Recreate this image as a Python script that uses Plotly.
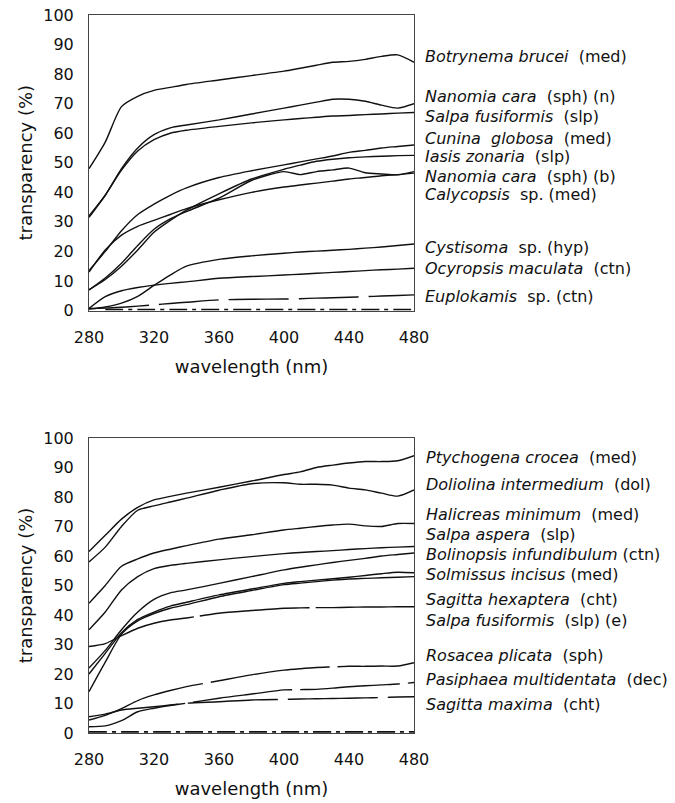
import plotly.graph_objects as go

# Wavelength grid (nm) shared by every spectrum
wavelength = [280, 290, 300, 310, 320, 330, 340, 360, 380, 400, 410, 420, 430, 440, 450, 460, 470, 480]

# ---- upper panel: transparency (%) ----
botrynema_brucei = [48, 57, 69, 72.5, 74.5, 75.5, 76.5, 78, 79.5, 81, 82, 83, 84, 84.3, 85, 86, 86.5, 84]
nanomia_cara_n = [32, 39, 48, 55, 59.5, 61.8, 62.8, 64.5, 66.5, 68.5, 69.5, 70.5, 71.5, 71.5, 70.8, 69.5, 68.5, 70]
salpa_fusiformis = [31.5, 39, 47.5, 54, 57.8, 60, 61, 62.3, 63.5, 64.5, 65, 65.4, 65.8, 66, 66.3, 66.5, 66.8, 67]
cunina_globosa = [13.5, 20, 27, 32.5, 36, 39, 41.5, 45, 47.3, 49.3, 50.3, 51.3, 52.3, 53.5, 54.2, 55, 55.5, 56]
iasis_zonaria = [7, 10.5, 15, 20.5, 26.5, 30.5, 34, 39.5, 44.5, 47.8, 49.2, 50.5, 51.2, 51.7, 52, 52.2, 52.4, 52.5]
nanomia_cara_b = [7, 11, 16, 22, 27.5, 31, 33.5, 38, 44, 47, 46, 47, 47.6, 48.2, 46.6, 46.2, 45.9, 47]
calycopsis_sp = [13, 20.5, 25.5, 28.5, 30.5, 32.5, 34.5, 37.5, 40, 41.8, 42.5, 43.1, 43.8, 44.5, 45, 45.6, 46, 46.5]
cystisoma_sp = [0.5, 1.2, 2.5, 4.8, 8.5, 12, 15, 17.3, 18.5, 19.4, 19.8, 20.1, 20.4, 20.7, 21.1, 21.5, 22, 22.5]
ocyropsis_maculata = [0.7, 4.7, 6.7, 7.8, 8.6, 9.2, 9.7, 10.9, 11.5, 12, 12.3, 12.6, 12.9, 13.2, 13.5, 13.8, 14, 14.3]
euplokamis_sp = [0.7, 0.8, 1.1, 1.5, 1.9, 2.4, 2.8, 3.6, 3.8, 3.9, 4.0, 4.2, 4.3, 4.5, 4.7, 4.9, 5.1, 5.3]
near_zero_upper = [None, 0.3, 0.3, 0.3, 0.3, 0.3, 0.3, 0.3, 0.3, 0.3, 0.3, 0.3, 0.3, 0.3, 0.3, 0.3, 0.3, 0.3]

# ---- lower panel: transparency (%) ----
ptychogena_crocea = [61.5, 67, 72.5, 76.5, 79, 80.2, 81.3, 83.3, 85.4, 87.6, 88.5, 90, 90.8, 91.5, 92, 92, 92.3, 94]
doliolina_intermedium = [58, 63, 70, 75.5, 77, 78.3, 79.6, 82.3, 84.5, 84.8, 84.3, 84.3, 84, 83, 82.4, 81.3, 80.3, 82.4]
halicreas_minimum = [44, 50, 56.5, 59, 61, 62.3, 63.5, 65.7, 67.2, 68.8, 69.4, 70, 70.5, 70.8, 70.2, 70, 71, 71]
salpa_aspera = [35, 41, 48.5, 53, 55.7, 56.8, 57.5, 58.7, 59.8, 60.8, 61.2, 61.5, 61.8, 62.2, 62.5, 62.8, 63, 63.2]
bolinopsis_infundibulum = [22, 28, 35, 41, 45.3, 47.5, 48.5, 50.7, 53, 55.3, 56.2, 57, 57.8, 58.5, 59.2, 60, 60.5, 61]
solmissus_incisus = [20, 27, 34, 38.5, 41, 43, 44.3, 46.8, 48.8, 50.7, 51.3, 51.8, 52.3, 52.8, 53.4, 54, 54.5, 54.3]
sagitta_hexaptera = [14, 24, 33.5, 38, 40.5, 42.3, 43.5, 46.2, 48.3, 50.3, 50.8, 51.3, 51.8, 52.2, 52.4, 52.6, 52.8, 53]
salpa_fusiformis_e = [29.3, 30.3, 33, 35.5, 37.2, 38.3, 39, 40.6, 41.5, 42.3, 42.4, 42.5, 42.5, 42.6, 42.7, 42.7, 42.8, 42.8]
rosacea_plicata = [4.4, 6, 8.3, 11, 12.9, 14.4, 15.7, 17.7, 19.7, 21.3, 21.8, 22.2, 22.4, 22.6, 22.6, 22.7, 22.7, 23.8]
pasiphaea_multidentata = [2.1, 2.4, 4.2, 7.2, 8.4, 9.3, 10.1, 11.8, 13.2, 14.6, 14.7, 14.8, 15.2, 15.7, 16, 16.3, 16.6, 17.1]
sagitta_maxima = [5.5, 6.4, 7.8, 8.4, 8.9, 9.5, 10.1, 10.6, 11.2, 11.4, 11.5, 11.6, 11.7, 11.8, 11.9, 12, 12.2, 12.3]
near_zero_lower = [0.4, 0.4, 0.4, 0.4, 0.4, 0.4, 0.4, 0.4, 0.4, 0.4, 0.4, 0.4, 0.4, 0.4, 0.4, 0.4, 0.4, 0.4]

upper_species = [
    ("<i>Botrynema brucei</i>  (med)", botrynema_brucei, "solid"),
    ("<i>Nanomia cara</i>  (sph) (n)", nanomia_cara_n, "solid"),
    ("<i>Salpa fusiformis</i>  (slp)", salpa_fusiformis, "solid"),
    ("<i>Cunina  globosa</i>  (med)", cunina_globosa, "solid"),
    ("<i>Iasis zonaria</i>  (slp)", iasis_zonaria, "solid"),
    ("<i>Nanomia cara</i>  (sph) (b)", nanomia_cara_b, "solid"),
    ("<i>Calycopsis</i>  sp. (med)", calycopsis_sp, "solid"),
    ("<i>Cystisoma</i>  sp. (hyp)", cystisoma_sp, "solid"),
    ("<i>Ocyropsis maculata</i>  (ctn)", ocyropsis_maculata, "solid"),
    ("<i>Euplokamis</i>  sp. (ctn)", euplokamis_sp, "60px,10px"),
]
upper_label_y = [85.8, 72.3, 65.8, 58.1, 52, 45.5, 39.2, 21.4, 14.3, 4.6]

lower_species = [
    ("<i>Ptychogena crocea</i>  (med)", ptychogena_crocea, "solid"),
    ("<i>Doliolina intermedium</i>  (dol)", doliolina_intermedium, "solid"),
    ("<i>Halicreas minimum</i>  (med)", halicreas_minimum, "solid"),
    ("<i>Salpa aspera</i>  (slp)", salpa_aspera, "solid"),
    ("<i>Bolinopsis infundibulum</i> (ctn)", bolinopsis_infundibulum, "solid"),
    ("<i>Solmissus incisus</i> (med)", solmissus_incisus, "solid"),
    ("<i>Sagitta hexaptera</i>  (cht)", sagitta_hexaptera, "solid"),
    ("<i>Salpa fusiformis</i>  (slp) (e)", salpa_fusiformis_e, "110px,6px"),
    ("<i>Rosacea plicata</i>  (sph)", rosacea_plicata, "120px,8px"),
    ("<i>Pasiphaea multidentata</i>  (dec)", pasiphaea_multidentata, "100px,8px"),
    ("<i>Sagitta maxima</i>  (cht)", sagitta_maxima, "90px,10px"),
]
lower_label_y = [93.4, 84.1, 74.2, 67.3, 60.6, 53.6, 45.1, 38.3, 26.4, 18.2, 9.5]

FONT = "DejaVu Sans"
INK = "#111111"

fig = go.Figure()


def add_curve(values, dash, xa, ya, width=1.4):
    fig.add_trace(go.Scatter(
        x=wavelength, y=values, mode="lines", xaxis=xa, yaxis=ya,
        line=dict(color=INK, width=width, dash=dash, shape="spline", smoothing=0.7),
        showlegend=False, hoverinfo="skip", connectgaps=False,
    ))


for _, vals, dash in upper_species:
    add_curve(vals, dash, "x", "y")
add_curve(near_zero_upper, "18px,5px,4px,5px", "x", "y", width=1.8)

for _, vals, dash in lower_species:
    add_curve(vals, dash, "x2", "y2")
add_curve(near_zero_lower, "18px,5px,4px,5px", "x2", "y2", width=1.8)

annotations = []
for (label, _, _), yv in zip(upper_species, upper_label_y):
    annotations.append(dict(text=label, x=1, xref="x domain", y=yv, yref="y",
                            xanchor="left", yanchor="middle", xshift=9, showarrow=False,
                            font=dict(family=FONT, size=16, color=INK)))
for (label, _, _), yv in zip(lower_species, lower_label_y):
    annotations.append(dict(text=label, x=1, xref="x2 domain", y=yv, yref="y2",
                            xanchor="left", yanchor="middle", xshift=10, showarrow=False,
                            font=dict(family=FONT, size=16, color=INK)))

xaxis_common = dict(
    range=[280, 480], tickvals=[280, 320, 360, 400, 440, 480],
    showgrid=False, zeroline=False, showline=True, mirror=True,
    linecolor="#444444", linewidth=1, ticks="", ticklabelstandoff=12,
    tickfont=dict(family=FONT, size=16, color=INK),
    title=dict(text="wavelength (nm)", font=dict(family=FONT, size=18, color=INK), standoff=14),
    automargin=False, domain=[0, 1],
)
yaxis_common = dict(
    range=[0, 100], tickvals=list(range(0, 101, 10)),
    showgrid=False, zeroline=False, showline=True, mirror=True,
    linecolor="#444444", linewidth=1, ticks="", ticklabelstandoff=11,
    tickfont=dict(family=FONT, size=16, color=INK),
    title=dict(text="transparency (%)", font=dict(family=FONT, size=18, color=INK), standoff=5),
    automargin=False,
)

fig.update_layout(
    width=675, height=803,
    margin=dict(l=89, r=261, t=15, b=70),
    paper_bgcolor="white", plot_bgcolor="white",
    xaxis=dict(xaxis_common, anchor="y"),
    yaxis=dict(yaxis_common, domain=[0.5884, 1], anchor="x"),
    xaxis2=dict(xaxis_common, anchor="y2"),
    yaxis2=dict(yaxis_common, domain=[0, 0.4109], anchor="x2"),
    annotations=annotations,
    showlegend=False,
)

fig.write_html("out.html")
